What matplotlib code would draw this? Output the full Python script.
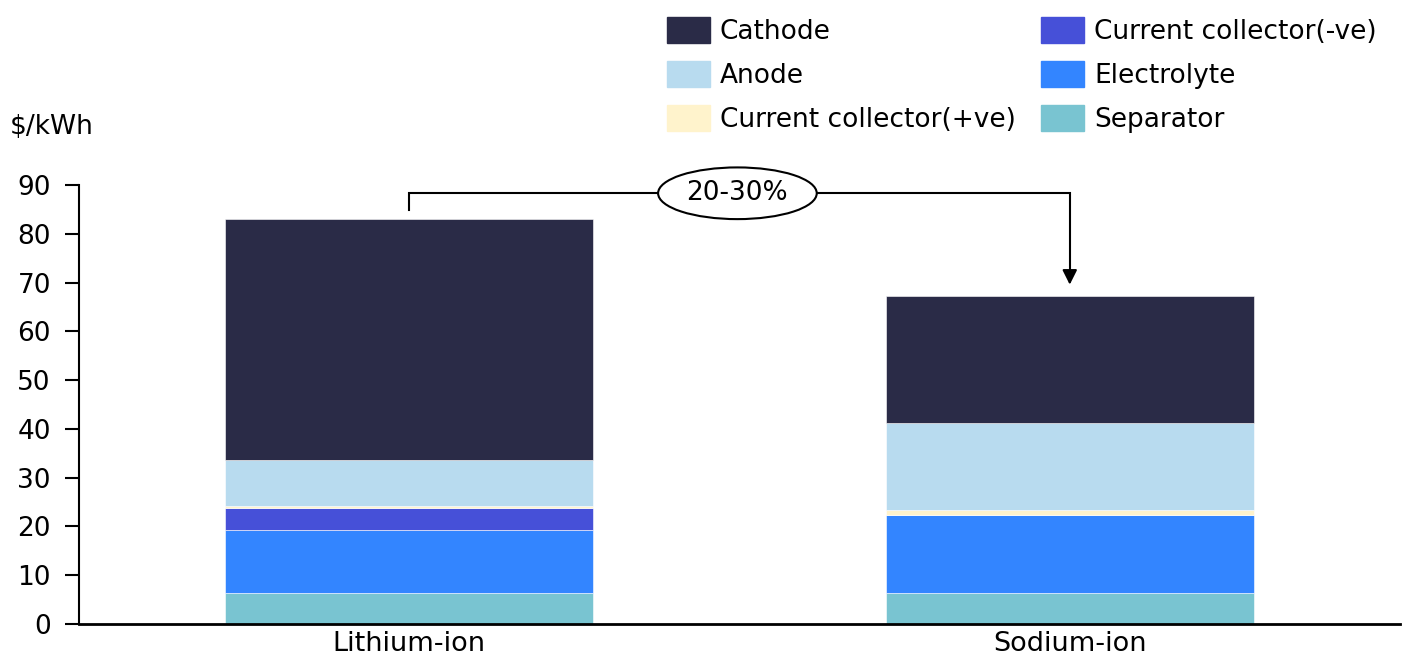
import matplotlib.pyplot as plt
from matplotlib.patches import Patch

plt.rcParams['font.family'] = ['DejaVu Sans']

chemistries = ['Lithium-ion', 'Sodium-ion']
components = ['Separator', 'Electrolyte', 'Current collector(-ve)',
              'Current collector(+ve)', 'Anode', 'Cathode']
separator = [6.35, 6.35]
electrolyte = [12.95, 15.95]
cc_neg = [4.5, 0.0]
cc_pos = [0.45, 1.0]
anode = [9.45, 17.95]
cathode = [49.3, 25.95]
values = [separator, electrolyte, cc_neg, cc_pos, anode, cathode]
colors = ['#79c4d1', '#3385ff', '#4650d8', '#fff3cc', '#b8dbef', '#2a2b47']

fig = plt.figure(figsize=(14.10, 6.63), dpi=100)
ax = fig.add_axes([0.0558, 0.0588, 0.9372, 0.6622])

x = list(range(len(chemistries)))
bottom = [0.0, 0.0]
for name, vals, col in zip(components, values, colors):
    ax.bar(x, vals, bottom=bottom, width=0.557, color=col, label=name,
           edgecolor='white', linewidth=0.4)
    bottom = [b + v for b, v in zip(bottom, vals)]

ax.set_xlim(-0.5, 1.5)
ax.set_ylim(0, 90)
ax.set_yticks(range(0, 91, 10))
ax.set_xticks(x)
ax.set_xticklabels(chemistries)
ax.tick_params(axis='y', labelsize=19, length=10, width=1.5, pad=10)
ax.tick_params(axis='x', labelsize=19.5, length=0, pad=5)
for s in ['top', 'right']:
    ax.spines[s].set_visible(False)
ax.spines['left'].set_linewidth(1.5)
ax.spines['bottom'].set_linewidth(2)

fig.text(0.007, 0.808, '$/kWh', fontsize=19, va='center', ha='left')

# bracket annotation
top_y = 88.3
ax.plot([0, 0, 1, 1], [84.8, top_y, top_y, 71.5], color='black', lw=1.5,
        solid_joinstyle='miter')
ax.annotate('', xy=(1, 69.0), xytext=(1, 72.0),
            arrowprops=dict(arrowstyle='-|>', color='black', lw=1.5,
                            mutation_scale=22))
ax.text(0.497, top_y, '20-30%', fontsize=19, ha='center', va='center',
        bbox=dict(boxstyle='ellipse,pad=0.2', fc='white', ec='black', lw=1.5))

order = [5, 4, 3, 2, 1, 0]
handles = [Patch(color=colors[i]) for i in order]
labels = [components[i] for i in order]
fig.legend(handles, labels, ncol=2, frameon=False, fontsize=19,
           loc='upper left', bbox_to_anchor=(0.473, 0.974),
           handlelength=1.63, handleheight=1.14, handletextpad=0.38,
           columnspacing=0.95, labelspacing=0.61, borderaxespad=0,
           borderpad=0)

fig.savefig('out.png', dpi=100)
